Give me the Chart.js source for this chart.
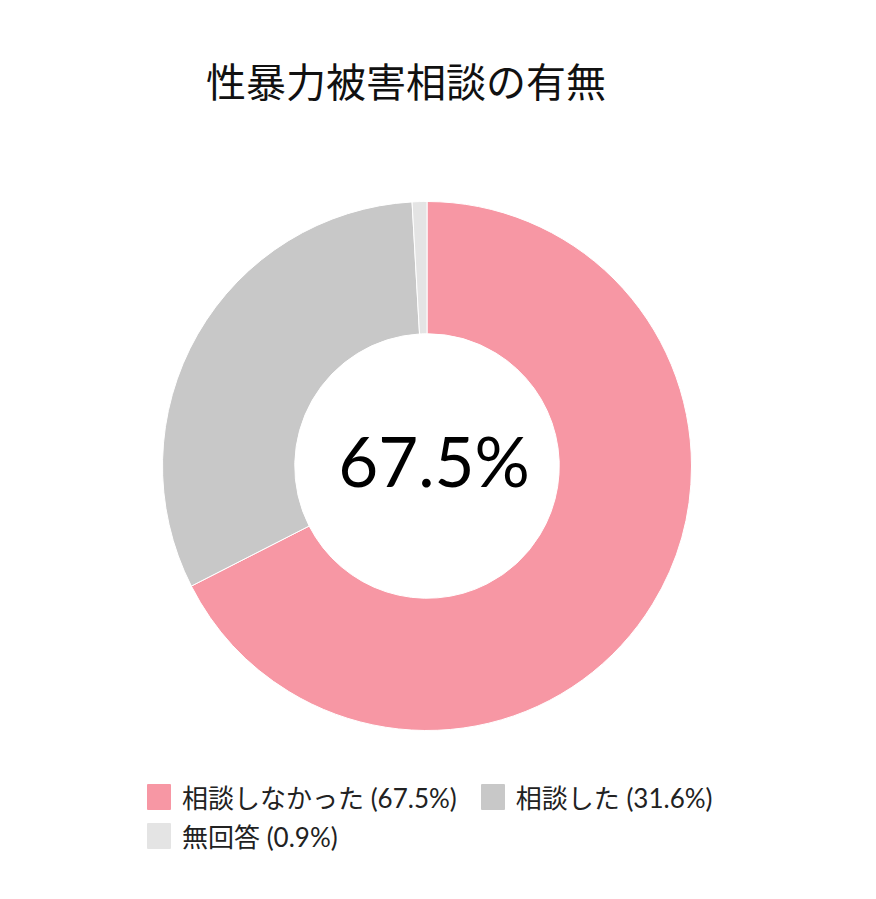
<!DOCTYPE html>
<html lang="ja">
<head>
<meta charset="utf-8">
<script src="https://cdn.jsdelivr.net/npm/chart.js@4.4.1/dist/chart.umd.min.js"></script>
<style>
  html, body { margin: 0; padding: 0; background: #ffffff; }
  body { width: 876px; height: 899px; position: relative; overflow: hidden; }
  #title {
    position: absolute; left: 206px; top: 56px;
    font-family: "Noto Sans CJK JP", sans-serif; font-size: 40px; line-height: 48px;
    color: #111; white-space: nowrap;
  }
  #wrap { position: absolute; left: 147px; top: 186px; width: 560px; height: 560px; }
  #legend {
    position: absolute; left: 147px; top: 782px; width: 620px;
    display: flex; flex-wrap: wrap; row-gap: 10px; column-gap: 24px;
    font-family: Lato, "Noto Sans CJK JP", sans-serif; font-size: 26px; color: #222;
  }
  .item { display: flex; align-items: center; height: 29px; }
  .box { width: 24px; height: 26px; margin-right: 11px; border-radius: 1px; }
</style>
</head>
<body>
<div id="title">性暴力被害相談の有無</div>
<div id="wrap"><canvas id="donut" width="560" height="560"></canvas></div>
<div id="legend"></div>
<script>
const labels = ['相談しなかった', '相談した', '無回答'];
const values = [67.5, 31.6, 0.9];
const colors = ['#F797A4', '#C8C8C8', '#E4E4E4'];

const centerText = {
    id: 'centerText',
    afterDraw(chart) {
        const arc = chart.getDatasetMeta(0).data[0];
        if (!arc) return;
        const ctx = chart.ctx;
        ctx.save();
        ctx.font = '400 69px Lato, sans-serif';
        ctx.fillStyle = '#000000';
        ctx.textAlign = 'center';
        ctx.textBaseline = 'alphabetic';
        ctx.fillText(values[0] + '%', arc.x + 7, arc.y + 21);
        ctx.restore();
    }
};

new Chart('donut', {
    type: 'doughnut',
    data: {
        labels: labels,
        datasets: [{
            data: values,
            backgroundColor: colors,
            borderColor: '#ffffff',
            borderWidth: 1
        }]
    },
    options: {
        responsive: false,
        animation: false,
        cutout: '50%',
        layout: { padding: 15 },
        plugins: {
            legend: { display: false },
            tooltip: { enabled: false }
        }
    },
    plugins: [centerText]
});

// legend built from the same arrays
const legendEl = document.getElementById('legend');
labels.forEach((label, i) => {
    const item = document.createElement('div');
    item.className = 'item';
    const box = document.createElement('span');
    box.className = 'box';
    box.style.background = colors[i];
    const text = document.createElement('span');
    text.textContent = label + ' (' + values[i] + '%)';
    item.appendChild(box);
    item.appendChild(text);
    legendEl.appendChild(item);
});
</script>
</body>
</html>
